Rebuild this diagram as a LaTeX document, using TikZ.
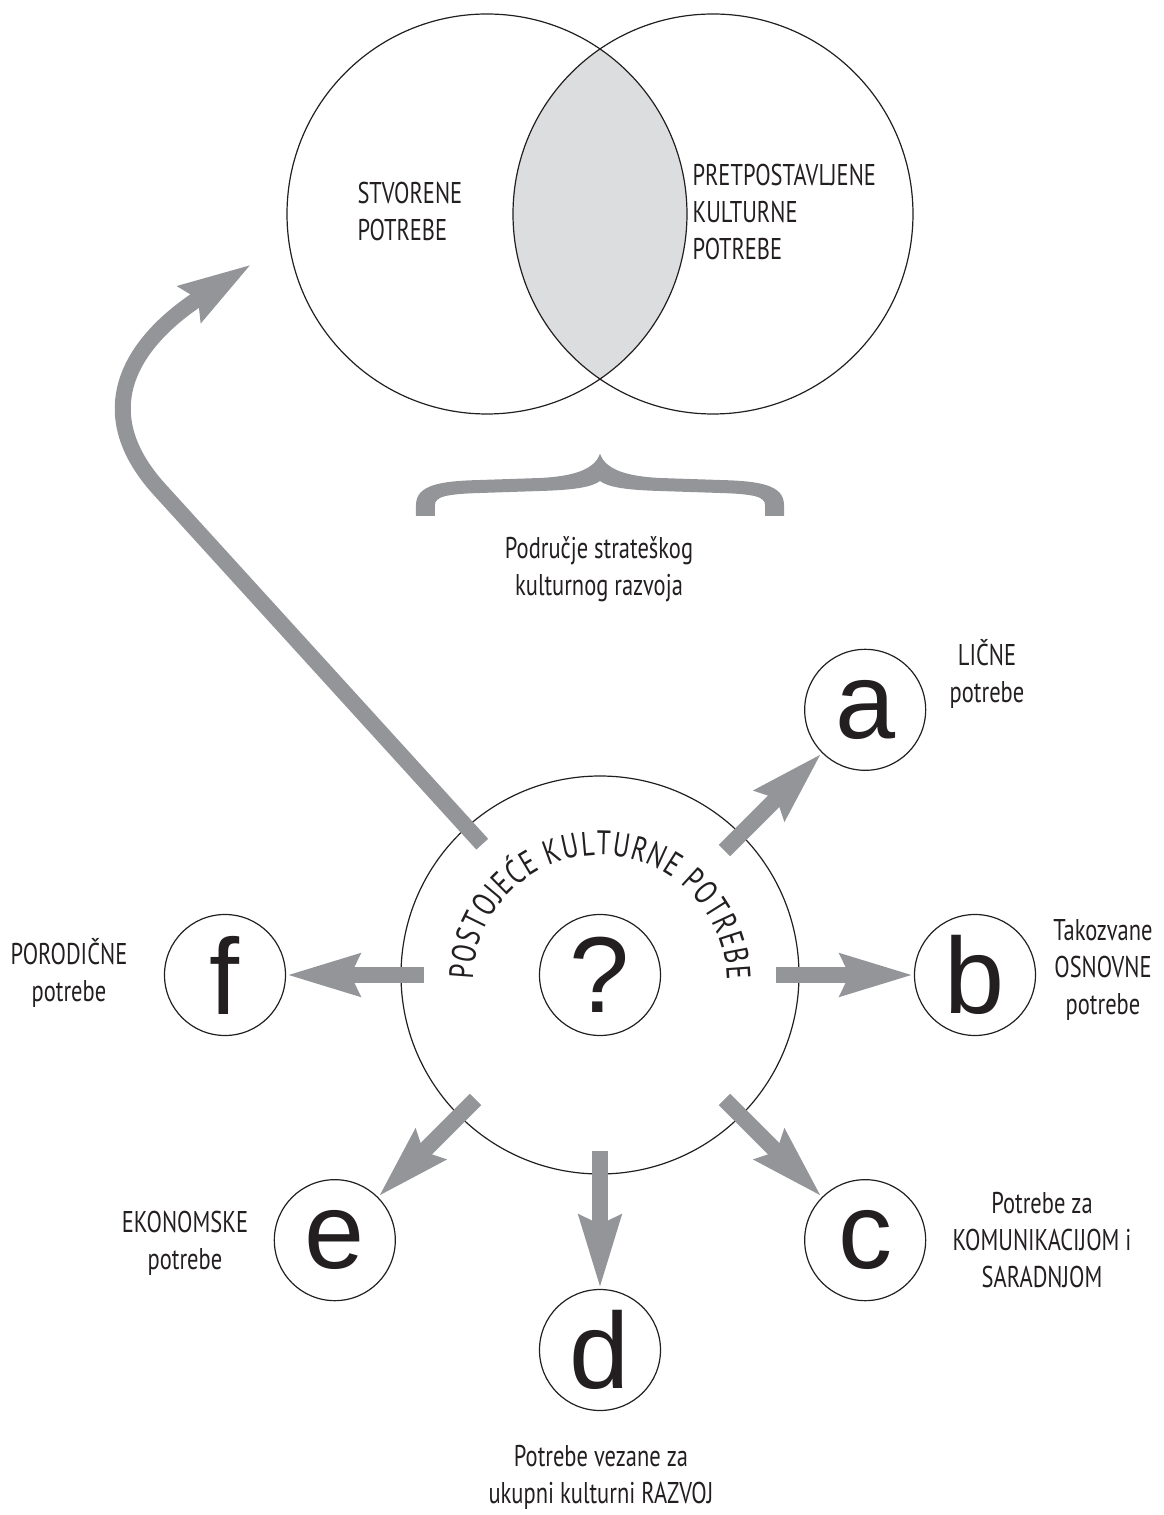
\documentclass[tikz,border=0pt]{standalone}
\usepackage{fontspec}
\setmainfont{PT Sans}[FakeStretch=0.75]
\newfontfamily\letterfont{Liberation Sans}
\usetikzlibrary{arrows.meta,decorations.text}

\definecolor{ink}{HTML}{231F20}
\definecolor{arrowgray}{HTML}{939598}
\definecolor{lensgray}{HTML}{DCDDDE}

\newcommand\notefont{\fontsize{30}{37}\selectfont}
\newcommand\curvefont{\fontsize{34}{34}\selectfont}

\tikzset{
  need/.style={draw=ink, line width=1.2pt, circle, minimum size=121pt, inner sep=0pt,
    text=ink, font=\letterfont\fontsize{108}{108}\selectfont},
  flow/.style={arrowgray, line width=16pt, -{Stealth[length=72pt,width=40pt,inset=8pt]}},
  note/.style={text=ink, align=center, font=\notefont},
  venn/.style={draw=ink, line width=1.2pt}
}

\begin{document}
\begin{tikzpicture}[x=1pt, y=1pt]

\def \n {6}
\def \radius {375}
\def \start {176}
\def \vr {200}

\useasboundingbox (-600,-540) rectangle (564,975);

% two sets of needs
\coordinate (made) at (-113,761);
\coordinate (assumed) at (113,761);
\begin{scope}
  \clip (made) circle[radius=\vr];
  \fill[lensgray] (assumed) circle[radius=\vr];
\end{scope}
\draw[venn] (made) circle[radius=\vr];
\draw[venn] (assumed) circle[radius=\vr];
\node[note, align=left, anchor=west] (stvorene) at (-246,763) {STVORENE\\POTREBE};
\node[note, align=left, anchor=west] (pretpost) at (89,763) {PRETPOSTAVLJENE\\KULTURNE\\POTREBE};

% brace
\fill[arrowgray] (-184,459) -- (-184,470) .. controls (-184,490) and (-160,494) .. (-120,495)
  -- (-60,497) .. controls (-20,499) and (-5,508) .. (0,521)
  .. controls (5,508) and (20,499) .. (60,497) -- (120,495)
  .. controls (160,494) and (184,490) .. (184,470) -- (184,459) -- (165,459) -- (165,470)
  .. controls (165,478) and (155,481) .. (120,482) -- (60,484)
  .. controls (25,485) and (8,488) .. (0,494)
  .. controls (-8,488) and (-25,485) .. (-60,484) -- (-120,482)
  .. controls (-155,481) and (-165,478) .. (-165,470) -- (-165,459) -- cycle;
\node[note] (podrucje) at (-1,406) {Područje strateškog\\kulturnog razvoja};

% existing needs
\node[draw=ink, line width=1.2pt, circle, minimum size=398pt] (main) at (0,0) {};
\node[need] (q) at (0,0) {?};
\path[decorate, decoration={text along path, text align={fit to path},
    text={|\curvefont\color{ink}|POSTOJEĆE KULTURNE POTREBE}}]
  (0,-7) ++(179:127) arc[start angle=179, end angle=1, radius=127];

\foreach \a/\l in {45/a, 0/b, -45/c, -90/d, -135/e, 180/f}
{
    \node[need] (\l) at (\a:\radius) {\l};
    \coordinate (from\l) at (\a:\start);
    \draw[flow] (from\l) -- (\l);
}

\coordinate (up) at (132:\start);
\coordinate (bend) at (-440,485);
\coordinate (tip) at (-348,711);
\draw[flow] (up) -- (bend) .. controls (-514,566) and (-466,635) .. (tip);

\node[note] (licne) at (387,301) {LIČNE\\potrebe};
\node[note] (osnovne) at (503,5) {Takozvane\\OSNOVNE\\potrebe};
\node[note] (komun) at (442,-265) {Potrebe za\\KOMUNIKACIJOM i\\SARADNJOM};
\node[note] (razvoj) at (1,-502) {Potrebe vezane za\\ukupni kulturni RAZVOJ};
\node[note] (ekonom) at (-415,-268) {EKONOMSKE\\potrebe};
\node[note] (porod) at (-531,2) {PORODIČNE\\potrebe};
\end{tikzpicture}
\end{document}
